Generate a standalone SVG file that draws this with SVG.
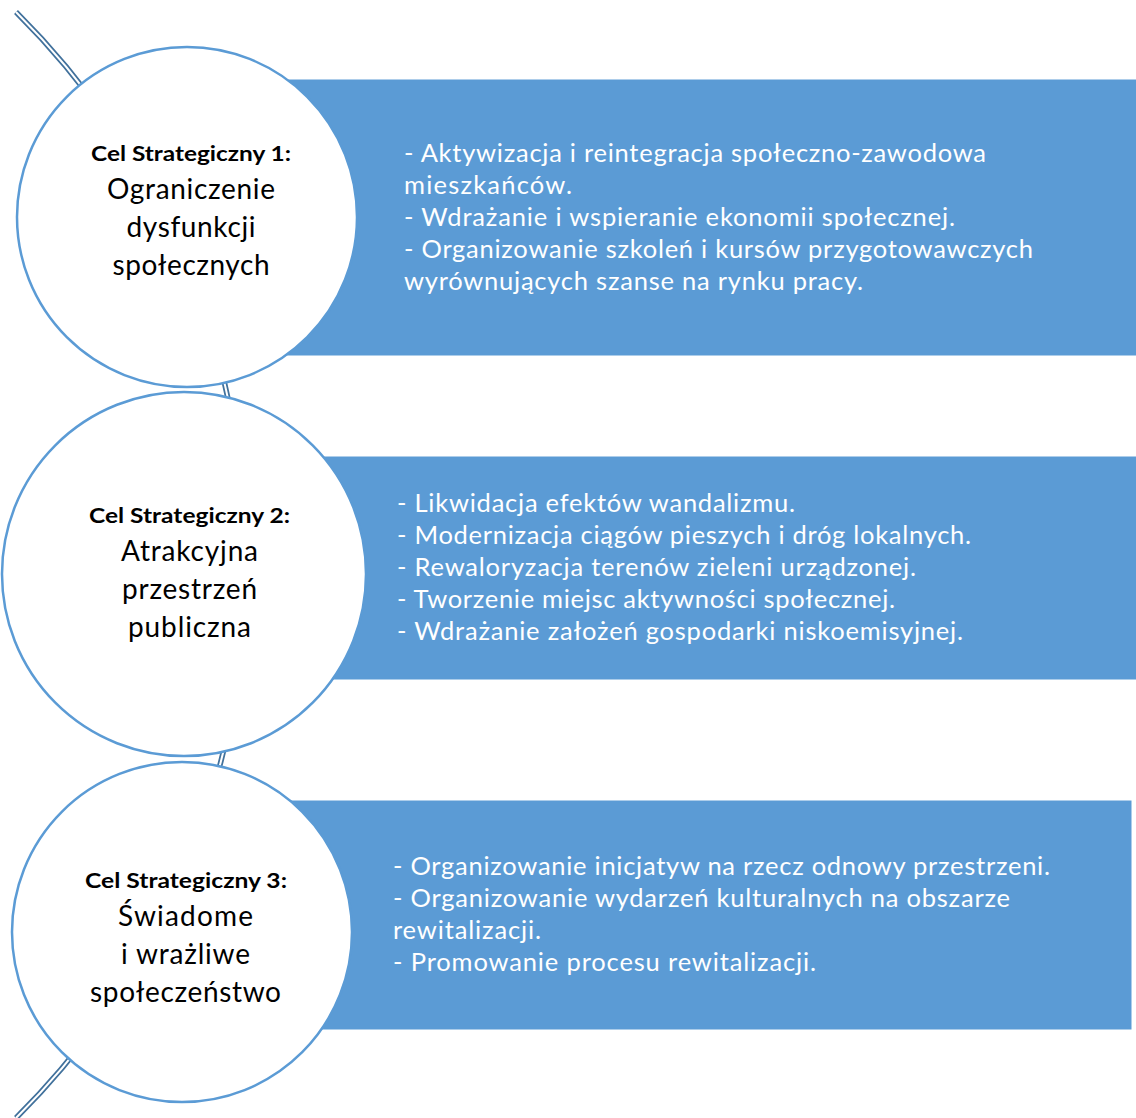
<svg xmlns="http://www.w3.org/2000/svg" width="1136" height="1118" viewBox="0 0 1136 1118">
<style>
.arcO{fill:none;stroke:#41719C;stroke-width:5.5}
.arcI{fill:none;stroke:#FFFFFF;stroke-width:2}
.bar{fill:#5B9BD5;stroke:#FFFFFF;stroke-width:1}
.circ{fill:#FFFFFF;stroke:#5B9BD5;stroke-width:2.5}
.h{font-family:Lato,"Open Sans",sans-serif;font-weight:bold;font-size:21.5px;fill:#000000;text-anchor:middle}
.t{font-family:Lato,"Open Sans",sans-serif;font-size:28px;fill:#000000;text-anchor:middle}
.b{font-family:Lato,"Open Sans",sans-serif;font-size:25.5px;fill:#FFFFFF}
</style>
<rect width="1136" height="1118" fill="#FFFFFF"/>
<g id="connectors">
<path class="arcO" d="M16,12 A780,780 0 0 1 16,1118"/>
<path class="arcI" d="M16,12 A780,780 0 0 1 16,1118"/>
</g>
<g id="bar1">
<rect class="bar" x="187" y="79" width="960" height="277"/>
<text class="b" x="404" y="162" textLength="582" lengthAdjust="spacing">- Aktywizacja i reintegracja społeczno-zawodowa</text>
<text class="b" x="404" y="194" textLength="168" lengthAdjust="spacing">mieszkańców.</text>
<text class="b" x="404" y="226" textLength="551" lengthAdjust="spacing">- Wdrażanie i wspieranie ekonomii społecznej.</text>
<text class="b" x="404" y="258" textLength="629" lengthAdjust="spacing">- Organizowanie szkoleń i kursów przygotowawczych</text>
<text class="b" x="404" y="290" textLength="459" lengthAdjust="spacing">wyrównujących szanse na rynku pracy.</text>
</g>
<g id="bar2">
<rect class="bar" x="184" y="456" width="963" height="224"/>
<text class="b" x="397" y="512" textLength="398" lengthAdjust="spacing">- Likwidacja efektów wandalizmu.</text>
<text class="b" x="397" y="544" textLength="574" lengthAdjust="spacing">- Modernizacja ciągów pieszych i dróg lokalnych.</text>
<text class="b" x="397" y="576" textLength="519" lengthAdjust="spacing">- Rewaloryzacja terenów zieleni urządzonej.</text>
<text class="b" x="397" y="608" textLength="498" lengthAdjust="spacing">- Tworzenie miejsc aktywności społecznej.</text>
<text class="b" x="397" y="640" textLength="566" lengthAdjust="spacing">- Wdrażanie założeń gospodarki niskoemisyjnej.</text>
</g>
<g id="bar3">
<rect class="bar" x="182" y="800" width="950" height="230"/>
<text class="b" x="393" y="875" textLength="657" lengthAdjust="spacing">- Organizowanie inicjatyw na rzecz odnowy przestrzeni.</text>
<text class="b" x="393" y="907" textLength="617" lengthAdjust="spacing">- Organizowanie wydarzeń kulturalnych na obszarze</text>
<text class="b" x="393" y="939" textLength="148" lengthAdjust="spacing">rewitalizacji.</text>
<text class="b" x="393" y="971" textLength="423" lengthAdjust="spacing">- Promowanie procesu rewitalizacji.</text>
</g>
<g id="circle1">
<circle class="circ" cx="187" cy="217" r="170"/>
<text class="h" x="191" y="161" textLength="200" lengthAdjust="spacingAndGlyphs">Cel Strategiczny 1:</text>
<text class="t" x="191" y="199" textLength="168" lengthAdjust="spacing">Ograniczenie</text>
<text class="t" x="191" y="237" textLength="129" lengthAdjust="spacing">dysfunkcji</text>
<text class="t" x="191" y="275" textLength="157" lengthAdjust="spacing">społecznych</text>
</g>
<g id="circle2">
<circle class="circ" cx="184" cy="574" r="182"/>
<text class="h" x="189.5" y="523" textLength="201" lengthAdjust="spacingAndGlyphs">Cel Strategiczny 2:</text>
<text class="t" x="189.5" y="561" textLength="137" lengthAdjust="spacing">Atrakcyjna</text>
<text class="t" x="189.5" y="599" textLength="135" lengthAdjust="spacing">przestrzeń</text>
<text class="t" x="189.5" y="637" textLength="123" lengthAdjust="spacing">publiczna</text>
</g>
<g id="circle3">
<circle class="circ" cx="182" cy="932" r="170"/>
<text class="h" x="186" y="888" textLength="202" lengthAdjust="spacingAndGlyphs">Cel Strategiczny 3:</text>
<text class="t" x="185.5" y="926" textLength="135" lengthAdjust="spacing">Świadome</text>
<text class="t" x="185.5" y="964" textLength="129" lengthAdjust="spacing">i wrażliwe</text>
<text class="t" x="185.5" y="1002" textLength="191" lengthAdjust="spacing">społeczeństwo</text>
</g>
</svg>
